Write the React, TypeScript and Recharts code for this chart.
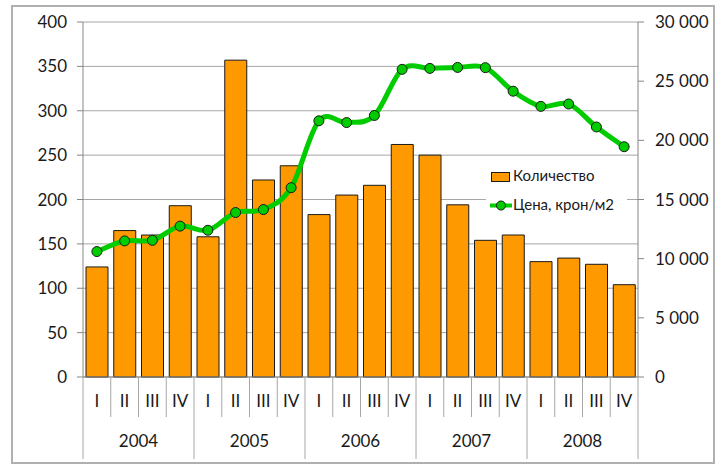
import React from 'react';
import { ComposedChart, Bar, Line, XAxis, YAxis, CartesianGrid, Legend } from 'recharts';

const years = ['2004', '2005', '2006', '2007', '2008'];
const quarters = ['I', 'II', 'III', 'IV'];
const counts = [124, 165, 160, 193, 158, 357, 222, 238, 183, 205, 216, 262, 250, 194, 154, 160, 130, 134, 127, 104];
const prices = [10600, 11500, 11550, 12750, 12400, 13900, 14150, 16000, 21650, 21500, 22100, 26000, 26080, 26160, 26140, 24150, 22870, 23070, 21130, 19460];
const leftTicks = [0, 50, 100, 150, 200, 250, 300, 350, 400];
const rightTicks = [0, 5000, 10000, 15000, 20000, 25000, 30000];

const data = counts.map((c, i) => ({
  key: `${years[Math.floor(i / 4)]}-${quarters[i % 4]}`,
  q: quarters[i % 4],
  year: years[Math.floor(i / 4)],
  count: c,
  price: prices[i],
}));

const FONT = 'Lato, "Open Sans", sans-serif';
const SEP = '#a6a6a6';
const GREEN = '#00cc00';

function catmullRom(context: any) {
  let pts: number[][] = [];
  return {
    areaStart() {},
    areaEnd() {},
    lineStart() { pts = []; },
    point(x: number, y: number) { pts.push([+x, +y]); },
    lineEnd() {
      const n = pts.length;
      if (!n) return;
      context.moveTo(pts[0][0], pts[0][1]);
      const t = 1 / 6;
      for (let i = 0; i < n - 1; i++) {
        const p0 = pts[i - 1] || pts[i];
        const p1 = pts[i];
        const p2 = pts[i + 1];
        const p3 = pts[i + 2] || p2;
        context.bezierCurveTo(
          p1[0] + (p2[0] - p0[0]) * t, p1[1] + (p2[1] - p0[1]) * t,
          p2[0] - (p3[0] - p1[0]) * t, p2[1] - (p3[1] - p1[1]) * t,
          p2[0], p2[1]
        );
      }
    },
  };
}

const fmtSpace = (v: number) => String(v).replace(/\B(?=(\d{3})+(?!\d))/g, '\u00a0');

const QuarterTick = (props: any) => {
  const { x, y, payload } = props;
  const idx = payload.index;
  const half = payload.offset || 13.875;
  const left = x - half;
  const isYearStart = idx % 4 === 0;
  const isLast = idx === data.length - 1;
  return (
    <g>
      <line x1={left} y1={y} x2={left} y2={y + (isYearStart ? 82 : 40)} stroke={SEP} strokeWidth={1} />
      {isLast && <line x1={x + half} y1={y} x2={x + half} y2={y + 82} stroke={SEP} strokeWidth={1} />}
      <text x={x} y={y + 26} textAnchor="middle" dominantBaseline="middle" fontFamily={FONT} fontSize={17} fill="#1a1a1a">
        {data[idx].q}
      </text>
      {isYearStart && (
        <text x={x + 3 * half} y={y + 66} textAnchor="middle" dominantBaseline="middle" fontFamily={FONT} fontSize={17} fill="#1a1a1a">
          {data[idx].year}
        </text>
      )}
    </g>
  );
};

const LegendContent = () => (
  <div style={{ background: '#fff', width: 141, height: 58, position: 'relative' }}>
    <svg width={141} height={58} style={{ position: 'absolute', left: 0, top: 0 }}>
      <rect x={5.5} y={8.5} width={18} height={9} fill="#ff9900" stroke="#1a1a1a" strokeWidth={1} />
      <text x={27} y={13.5} dominantBaseline="middle" fontFamily={FONT} fontSize={15} fill="#1a1a1a">Количество</text>
      <line x1={4} y1={41.5} x2={26} y2={41.5} stroke={GREEN} strokeWidth={4} />
      <circle cx={15} cy={41.5} r={4.5} fill={GREEN} stroke="#1a1a1a" strokeWidth={1} />
      <text x={27} y={42} dominantBaseline="middle" fontFamily={FONT} fontSize={15} fill="#1a1a1a">Цена, крон/м2</text>
    </svg>
  </div>
);

export default function App() {
  return (
    <div style={{ position: 'absolute', left: 0, top: 0, width: 724, height: 465, background: '#fff' }}>
      <div style={{ position: 'absolute', left: 11, top: 5, width: 704, height: 459, boxSizing: 'border-box', border: '2px solid #b0b0b0' }} />
      <div style={{ position: 'absolute', left: 0, top: 0 }}>
        <ComposedChart
          width={724}
          height={465}
          data={data}
          margin={{ top: 22, right: 0, bottom: 5, left: 0 }}
          barCategoryGap={0}
        >
          <CartesianGrid yAxisId="left" vertical={false} stroke="#a6a6a6" strokeWidth={1} />
          <XAxis
            dataKey="key"
            height={83}
            interval={0}
            tickLine={false}
            tickSize={0}
            tickMargin={0}
            axisLine={{ stroke: '#868686' }}
            tick={<QuarterTick />}
          />
          <YAxis
            yAxisId="left"
            orientation="left"
            width={83}
            domain={[0, 400]}
            ticks={leftTicks}
            interval={0}
            tickSize={6}
            tickMargin={10}
            axisLine={{ stroke: '#868686' }}
            tickLine={{ stroke: '#868686' }}
            tick={{ fontFamily: FONT, fontSize: 17, fill: '#1a1a1a' }}
          />
          <YAxis
            yAxisId="right"
            orientation="right"
            width={86}
            domain={[0, 30000]}
            ticks={rightTicks}
            interval={0}
            tickSize={6}
            tickMargin={11}
            tickFormatter={fmtSpace}
            axisLine={{ stroke: '#868686' }}
            tickLine={{ stroke: '#868686' }}
            tick={{ fontFamily: FONT, fontSize: 17, fill: '#1a1a1a', textAnchor: 'start' }}
          />
          <Legend
            layout="horizontal"
            verticalAlign="middle"
            align="center"
            wrapperStyle={{ position: 'absolute', left: 486, top: 164, width: 141, height: 58 }}
            content={<LegendContent />}
          />
          <Bar
            yAxisId="left"
            dataKey="count"
            name="Количество"
            barSize={22}
            fill="#ff9900"
            stroke="#1a1a1a"
            strokeWidth={1}
            isAnimationActive={false}
          />
          <Line
            yAxisId="right"
            dataKey="price"
            name="Цена, крон/м2"
            type={catmullRom as any}
            stroke={GREEN}
            strokeWidth={5}
            dot={{ r: 5, fill: GREEN, stroke: '#1a1a1a', strokeWidth: 1 }}
            activeDot={false}
            isAnimationActive={false}
          />
        </ComposedChart>
      </div>
    </div>
  );
}
